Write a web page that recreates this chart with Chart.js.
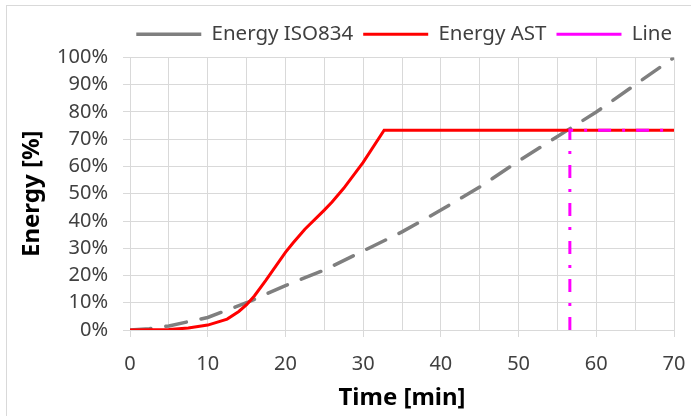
<!DOCTYPE html>
<html>
<head>
<meta charset="utf-8">
<script src="https://cdn.jsdelivr.net/npm/chart.js@4"></script>
<style>
  html, body { margin: 0; padding: 0; background: #fff; overflow: hidden; }
  #frame { position: absolute; left: 6px; top: 5px; width: 800px; height: 500px; border: 1px solid #d9d9d9; }
  #wrap { position: absolute; left: 0; top: 0; width: 686px; height: 416px; }
</style>
</head>
<body>
<div id="frame"></div>
<div id="wrap"><canvas id="chart"></canvas></div>
<script>
// Energy curves over time (minutes, percent of total energy)
const isoTime   = [0, 2.5, 5, 10, 15, 20, 25, 30, 35, 40, 45, 50, 55, 60, 65, 70];
const isoEnergy = [0, 0.5, 1.5, 4.6, 10, 16.3, 22, 29, 36, 44, 52.5, 62, 71, 80, 90, 100];

const astTime   = [0, 5, 7.5, 10, 12.5, 14, 15, 16, 17.5, 20, 21, 22.5, 25, 26, 27.5, 30, 32.7, 70];
const astEnergy = [0, 0.2, 0.7, 1.8, 4.0, 6.8, 9.3, 12.5, 18.3, 28.5, 32, 37, 44, 47, 52, 61.5, 73.3, 73.3];

// Reference line: time at which the ISO834 curve reaches the AST plateau
const lineTime   = [56.6, 56.6, 70];
const lineEnergy = [0, 73.3, 73.3];

const seriesNames = ['Energy ISO834', 'Energy AST', 'Line'];
const xTicks = { min: 0, max: 70, step: 5, labelStep: 10 };
const yTicks = { min: 0, max: 100, step: 10 };

const toPoints = (xs, ys) => xs.map((x, i) => ({ x, y: ys[i] }));

const FONT = '"Noto Sans", "Open Sans", sans-serif';
const GRID = '#d9d9d9';
const TEXT = '#404040';

// Extra space between the legend and the plot
const legendSpacing = {
  id: 'legendSpacing',
  beforeInit(chart) {
    const lg = chart.legend;
    if (!lg) return;
    const fit = lg.fit;
    lg.fit = function () { fit.call(this); this.height += 3; };
  }
};

new Chart(document.getElementById('chart'), {
  type: 'line',
  data: {
    datasets: [
      {
        label: seriesNames[0],
        data: toPoints(isoTime, isoEnergy),
        borderColor: '#7f7f7f',
        backgroundColor: '#7f7f7f',
        borderWidth: 3.5,
        borderDash: [21, 15],
        borderCapStyle: 'round',
        pointRadius: 0,
        tension: 0,
        order: 2
      },
      {
        label: seriesNames[1],
        data: toPoints(astTime, astEnergy),
        borderColor: '#ff0000',
        backgroundColor: '#ff0000',
        borderWidth: 3,
        pointRadius: 0,
        tension: 0,
        order: 1
      },
      {
        label: seriesNames[2],
        data: toPoints(lineTime, lineEnergy),
        borderColor: '#ff00ff',
        backgroundColor: '#ff00ff',
        borderWidth: 3,
        borderDash: [13, 11, 3, 11],
        pointRadius: 0,
        tension: 0,
        order: 0
      }
    ]
  },
  options: {
    responsive: true,
    maintainAspectRatio: false,
    animation: false,
    layout: { padding: { top: 14, left: 0, right: 4, bottom: 0 } },
    plugins: {
      tooltip: { enabled: false },
      legend: {
        position: 'top',
        align: 'end',
        labels: {
          usePointStyle: true,
          pointStyle: 'line',
          pointStyleWidth: 65,
          padding: 10,
          color: TEXT,
          font: { family: FONT, size: 20.5 },
          sort: (a, b) => a.datasetIndex - b.datasetIndex
        }
      }
    },
    scales: {
      x: {
        type: 'linear',
        min: xTicks.min,
        max: xTicks.max,
        afterFit: (s) => { s.height = 86; s.paddingRight = 12; },
        ticks: {
          stepSize: xTicks.step,
          padding: 15,
          color: TEXT,
          font: { family: FONT, size: 20 },
          maxRotation: 0,
          autoSkip: false,
          callback: (v) => (v % xTicks.labelStep === 0 ? String(v) : '')
        },
        grid: {
          color: GRID,
          lineWidth: 1,
          tickLength: 7,
          tickColor: (ctx) => (ctx.tick && ctx.tick.value % xTicks.labelStep === 0 ? GRID : 'rgba(0,0,0,0)')
        },
        border: { color: GRID },
        title: {
          display: true,
          text: 'Time [min]',
          color: '#000',
          font: { family: FONT, size: 24, weight: 'bold' },
          padding: { top: 0, bottom: 3 }
        }
      },
      y: {
        min: yTicks.min,
        max: yTicks.max,
        afterFit: (s) => { s.width = 130; },
        ticks: {
          stepSize: yTicks.step,
          padding: 15,
          color: TEXT,
          font: { family: FONT, size: 20 },
          callback: (v) => v + '%'
        },
        grid: { color: GRID, lineWidth: 1, tickLength: 7, tickColor: GRID },
        border: { color: GRID },
        title: {
          display: true,
          text: 'Energy [%]',
          color: '#000',
          font: { family: FONT, size: 24, weight: 'bold' },
          padding: { top: 17.6, bottom: 0 }
        }
      }
    }
  },
  plugins: [legendSpacing]
});
</script>
</body>
</html>
